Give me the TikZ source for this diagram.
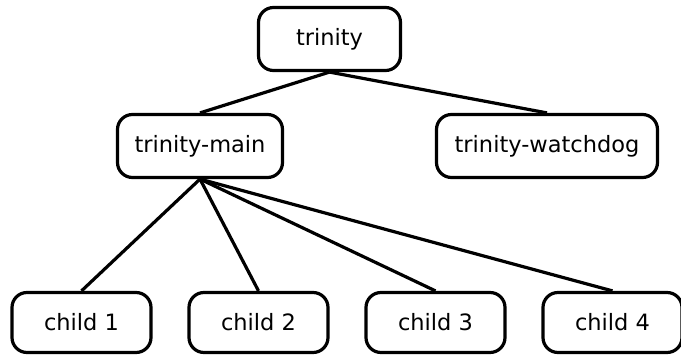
\documentclass[tikz,border=0pt]{standalone}
\usepackage{fontspec}
\setmainfont{DejaVu Sans}
\usetikzlibrary{positioning}

\tikzstyle{proc} = [draw, line width=3.2pt, rounded corners=15pt, inner sep=0pt,
    minimum height=63pt, font=\fontsize{22.5pt}{27pt}\selectfont]
\tikzstyle{kid} = [proc, minimum width=139pt, minimum height=60pt]
\tikzstyle{link} = [line width=3.2pt]

\begin{document}
\begin{tikzpicture}[x=1pt,y=-1pt]
\useasboundingbox (0,0) rectangle (681,355);
\node[proc, minimum width=142pt] (trinity) at (329.5,39) {trinity};
\node[proc, minimum width=165pt] (main) at (200,146) {trinity-main};
\node[proc, minimum width=221pt] (watchdog) at (547,146) {trinity-watchdog};
\node[kid] (c1) at (81.5,322.5) {child 1};
\node[kid] (c2) at (258.5,322.5) {child 2};
\node[kid] (c3) at (435.5,322.5) {child 3};
\node[kid] (c4) at (612.5,322.5) {child 4};

\draw[link] (trinity.south) -- (main.north);
\draw[link] (trinity.south) -- (watchdog.north);
\foreach \k in {c1,c2,c3,c4}
    \draw[link] (main.south) -- (\k.north);
\end{tikzpicture}
\end{document}
